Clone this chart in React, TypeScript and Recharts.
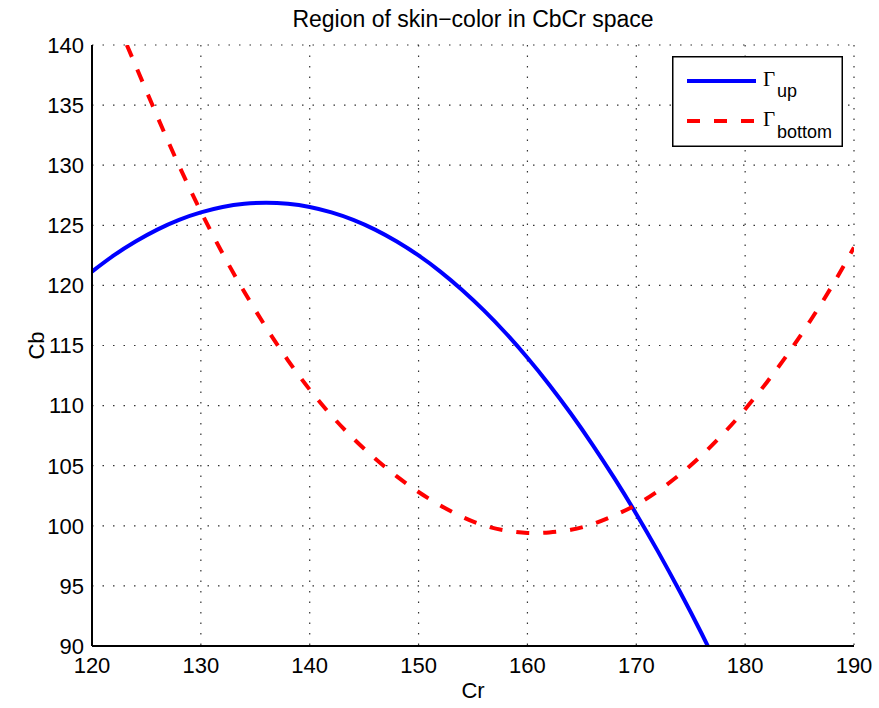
import React from 'react';
import { LineChart, Line, XAxis, YAxis, CartesianGrid, Legend } from 'recharts';

// Axis ticks
const crTicks = [120, 130, 140, 150, 160, 170, 180, 190];
const cbTicks = [90, 95, 100, 105, 110, 115, 120, 125, 130, 135, 140];

// Upper boundary of the skin-colour region (Gamma_up)
const upCr = [120, 122, 124, 126, 128, 130, 132, 134, 136, 138, 140, 142, 144, 146, 148, 150, 152, 154, 156, 158, 160, 162, 164, 166, 168, 170, 172, 174, 176, 178];
const upCb = [121.15, 122.49, 123.65, 124.64, 125.45, 126.07, 126.52, 126.79, 126.88, 126.79, 126.52, 126.07, 125.45, 124.64, 123.65, 122.49, 121.15, 119.62, 117.92, 116.04, 113.98, 111.74, 109.32, 106.72, 103.94, 100.99, 97.85, 94.53, 91.04, 87.37];

// Lower boundary of the skin-colour region (Gamma_bottom)
const bottomCr = [123.2, 124, 126, 128, 130, 132, 134, 136, 138, 140, 142, 144, 146, 148, 150, 152, 154, 156, 158, 160, 162, 164, 166, 168, 170, 172, 174, 176, 178, 180, 182, 184, 186, 188, 190];
const bottomCb = [140, 138.3, 134.05, 129.95, 126.15, 122.65, 119.45, 116.49, 113.77, 111.33, 109.17, 107.27, 105.59, 104.11, 102.81, 101.69, 100.75, 100.03, 99.61, 99.41, 99.45, 99.67, 100.15, 100.87, 101.75, 102.9, 104.27, 105.86, 107.67, 109.7, 111.95, 114.4, 117.08, 119.98, 123.15];

const upData = upCr.map((cr, i) => ({ cr, cb: upCb[i] }));
const bottomData = bottomCr.map((cr, i) => ({ cr, cb: bottomCb[i] }));

const W = 879;
const H = 708;
const MARGIN = { top: 45, right: 25, bottom: 0, left: 0 };
const Y_AXIS_W = 92;
const X_AXIS_H = 62;

const SANS = '"Liberation Sans", Arial, Helvetica, sans-serif';
const SERIF = '"Liberation Serif", "Times New Roman", serif';
const TICK_FONT = 22;
const DASH = '13 14';

const tickStyle = { fontFamily: SANS, fontSize: TICK_FONT, fill: '#000' };

const LegendBox = () => (
  <svg width={171} height={91} style={{ display: 'block' }}>
    <rect x={0.75} y={0.75} width={169.5} height={89.5} fill="#fff" stroke="#000" strokeWidth={1.5} />
    <line x1={15} x2={84} y1={25} y2={25} stroke="#0000ff" strokeWidth={4} />
    <text x={91} y={30} fontFamily={SERIF} fontSize={21} fill="#000">Γ</text>
    <text x={105} y={41} fontFamily={SANS} fontSize={18} fill="#000">up</text>
    <line x1={15} x2={84} y1={65} y2={65} stroke="#ff0000" strokeWidth={4} strokeDasharray={DASH} />
    <text x={91} y={70} fontFamily={SERIF} fontSize={21} fill="#000">Γ</text>
    <text x={105} y={82} fontFamily={SANS} fontSize={18} fill="#000">bottom</text>
  </svg>
);

const CbLabel = (props: any) => {
  const vb = props.viewBox || { x: 0, y: 0, width: 0, height: 0 };
  const cx = vb.x + 36;
  const cy = vb.y + vb.height / 2;
  return (
    <text
      x={cx}
      y={cy}
      transform={`rotate(-90, ${cx}, ${cy})`}
      textAnchor="middle"
      dominantBaseline="central"
      fontFamily={SANS}
      fontSize={TICK_FONT}
      fill="#000"
    >
      Cb
    </text>
  );
};

export default function App() {
  const plotLeft = MARGIN.left + Y_AXIS_W;
  const plotRight = W - MARGIN.right;
  return (
    <div style={{ position: 'absolute', left: 0, top: 0, width: W, height: H, background: '#fff' }}>
      <LineChart width={W} height={H} margin={MARGIN}>
        <text
          x={(plotLeft + plotRight) / 2}
          y={27}
          textAnchor="middle"
          fontFamily={SANS}
          fontSize={23}
          fill="#000"
        >
          Region of skin−color in CbCr space
        </text>

        {/* inward tick marks on all four sides (mirrored, no labels) */}
        <XAxis xAxisId="xin" type="number" dataKey="cr" orientation="bottom" mirror height={0}
          domain={[120, 190]} ticks={crTicks} allowDataOverflow tick={false} tickSize={8}
          axisLine={false} tickLine={{ stroke: '#000', strokeWidth: 1.5 }} />
        <XAxis xAxisId="xtop" type="number" dataKey="cr" orientation="top" mirror height={0}
          domain={[120, 190]} ticks={crTicks} allowDataOverflow tick={false} tickSize={8}
          axisLine={{ stroke: '#000', strokeWidth: 2 }} tickLine={{ stroke: '#000', strokeWidth: 1.5 }} />
        <YAxis yAxisId="yin" type="number" dataKey="cb" orientation="left" mirror width={0}
          domain={[90, 140]} ticks={cbTicks} allowDataOverflow tick={false} tickSize={8}
          axisLine={false} tickLine={{ stroke: '#000', strokeWidth: 1.5 }} />
        <YAxis yAxisId="yright" type="number" dataKey="cb" orientation="right" mirror width={0}
          domain={[90, 140]} ticks={cbTicks} allowDataOverflow tick={false} tickSize={8}
          axisLine={{ stroke: '#000', strokeWidth: 2 }} tickLine={{ stroke: '#000', strokeWidth: 1.5 }} />

        {/* labelled axes */}
        <XAxis xAxisId="x" type="number" dataKey="cr" orientation="bottom" height={X_AXIS_H}
          domain={[120, 190]} ticks={crTicks} allowDataOverflow interval={0}
          tick={tickStyle} tickLine={false} tickSize={0} tickMargin={11}
          axisLine={{ stroke: '#000', strokeWidth: 2 }}
          label={{ value: 'Cr', position: 'insideBottom', offset: 10, style: { fontFamily: SANS, fontSize: TICK_FONT, fill: '#000' } }} />
        <YAxis yAxisId="y" type="number" dataKey="cb" orientation="left" width={Y_AXIS_W}
          domain={[90, 140]} ticks={cbTicks} allowDataOverflow interval={0}
          tick={tickStyle} tickLine={false} tickSize={0} tickMargin={8}
          axisLine={{ stroke: '#000', strokeWidth: 2 }}
          label={<CbLabel />} />

        <CartesianGrid xAxisId="x" yAxisId="y" stroke="#333" strokeDasharray="1.5 9" strokeWidth={1.2} />

        <Line xAxisId="x" yAxisId="y" data={upData} dataKey="cb" type="natural"
          stroke="#0000ff" strokeWidth={4} dot={false} activeDot={false} isAnimationActive={false} />
        <Line xAxisId="x" yAxisId="y" data={bottomData} dataKey="cb" type="natural"
          stroke="#ff0000" strokeWidth={4} strokeDasharray={DASH} dot={false} activeDot={false} isAnimationActive={false} />

        <Legend layout="vertical" align="center" verticalAlign="middle"
          wrapperStyle={{ left: 672, top: 56, width: 171, height: 91, margin: 0, padding: 0 }}
          content={() => <LegendBox />} />
      </LineChart>
    </div>
  );
}
